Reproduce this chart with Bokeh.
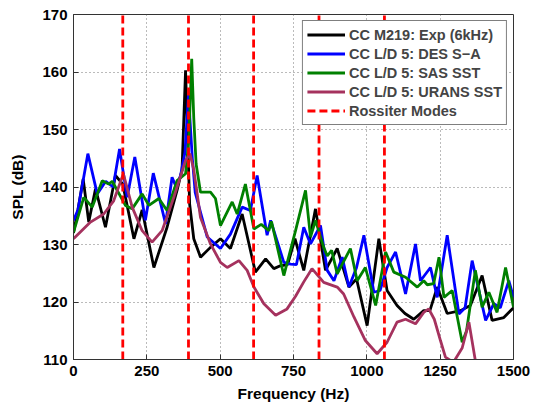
from bokeh.plotting import figure
from bokeh.embed import file_html
from bokeh.resources import INLINE
from bokeh.models import FixedTicker

# ---- data ----
exp_f = [0, 15, 33, 52, 75, 109, 143, 168, 206, 234, 274, 319, 353, 370, 382, 396, 410, 433, 467, 501, 535, 575, 620, 655, 683, 705, 730, 755, 785, 825, 859, 899, 939, 965, 1001, 1041, 1069, 1103, 1130, 1160, 1194, 1215, 1240, 1274, 1319, 1353, 1393, 1427, 1467, 1500]
exp_spl = [132, 136, 141.4, 133.9, 139.7, 133, 142, 140.5, 131, 136, 126, 133, 139.4, 143, 160.3, 137, 131, 127.8, 129.5, 131, 129.3, 135.3, 125.2, 127.5, 125.8, 126.3, 126.5, 131, 125.5, 136.2, 125.5, 129.3, 122.6, 124, 115.9, 131, 122, 119.4, 118, 117, 118.5, 118.5, 122.6, 118, 118.5, 119.4, 124.6, 116.8, 117.3, 119]

des_f = [0, 15, 49, 81, 110, 135, 157, 183, 209, 245, 272, 314, 336, 350, 365, 380, 392, 405, 415, 456, 501, 535, 575, 603, 626, 660, 672, 717, 740, 760, 785, 808, 842, 865, 888, 916, 939, 965, 990, 1024, 1045, 1069, 1098, 1132, 1166, 1183, 1217, 1240, 1274, 1314, 1335, 1359, 1405, 1433, 1455, 1484, 1500]
des_spl = [134.2, 136, 145.8, 138.8, 141, 140, 146.6, 138.2, 145.2, 134.2, 142.4, 133.6, 141.7, 140, 142, 146, 156, 145, 139, 131.3, 129.3, 131.8, 136.5, 135.9, 142, 131.6, 134.2, 126.9, 126.6, 126.5, 133, 130.1, 133.3, 125.5, 123.7, 127.8, 122.6, 126, 131.6, 121.7, 122, 126, 128.7, 121.4, 130.1, 123.7, 126, 120.8, 131.6, 117.9, 119, 127.2, 116.8, 119.7, 119, 123.7, 120.8]

sas_f = [0, 35, 64, 98, 120, 132, 177, 200, 234, 257, 291, 319, 353, 382, 393, 403, 410, 418, 433, 467, 484, 501, 541, 558, 586, 615, 640, 666, 675, 717, 757, 791, 808, 825, 853, 865, 880, 899, 944, 967, 995, 1030, 1064, 1092, 1132, 1172, 1194, 1206, 1228, 1246, 1263, 1291, 1325, 1340, 1370, 1393, 1416, 1444, 1473, 1500]
sas_spl = [132.1, 138.2, 136.5, 141.1, 140.5, 141, 136.8, 136.2, 138.8, 136.8, 138, 135.9, 141.1, 142.3, 148, 162.3, 152, 144, 139.1, 139.1, 138, 133.3, 137.4, 135.3, 140.5, 132.7, 133.5, 132.4, 134, 124.6, 132.4, 139.4, 131.3, 134.2, 129.5, 128, 129, 124.9, 129.3, 123.7, 126, 119.4, 128.7, 125.2, 124.3, 122.6, 123.7, 123, 123.2, 127.8, 120.8, 122, 113, 115, 125.5, 119.1, 121.7, 118.2, 126, 119.1]

urans_f = [0, 58, 103, 137, 170, 200, 234, 268, 302, 342, 382, 397, 410, 433, 467, 501, 524, 564, 592, 615, 649, 689, 728, 757, 785, 813, 853, 899, 921, 956, 995, 1035, 1069, 1103, 1132, 1166, 1194, 1211, 1230, 1251, 1268, 1295, 1325, 1348, 1370, 1390, 1410]
urans_spl = [131, 133.9, 135.3, 137.6, 142.3, 136.5, 132.4, 130.4, 132.4, 138.2, 144.6, 145.8, 143, 134.7, 130.1, 126.9, 126, 127.2, 125.5, 122.6, 119.7, 117.7, 118.8, 121, 123.5, 125.8, 123.4, 122.6, 121.4, 117.4, 113.3, 111, 113, 116.5, 117, 116.2, 118.2, 118.8, 117, 113.3, 110.4, 109.5, 112, 116.5, 109.8, 104, 100]

rossiter_f = [168, 392, 614, 837, 1060]

x_ticks = [0, 250, 500, 750, 1000, 1250, 1500]
y_ticks = [110, 120, 130, 140, 150, 160, 170]
x_lim = (0, 1500)
y_lim = (110, 170)

FONT = "Liberation Sans"

p = figure(width=547, height=407, x_range=x_lim, y_range=y_lim,
           output_backend="svg", toolbar_location=None,
           min_border_left=73, min_border_right=34, min_border_top=14, min_border_bottom=48)

p.line(exp_f, exp_spl, line_color="black", line_width=2.8, legend_label="CC M219: Exp (6kHz)")
p.line(des_f, des_spl, line_color="#0000FF", line_width=2.8, legend_label="CC L/D 5: DES S\u2212A")
p.line(sas_f, sas_spl, line_color="#008000", line_width=2.8, legend_label="CC L/D 5: SAS SST")
p.line(urans_f, urans_spl, line_color="#A5325E", line_width=2.8, legend_label="CC L/D 5: URANS SST")
p.segment(x0=rossiter_f, x1=rossiter_f, y0=[y_lim[0]] * len(rossiter_f), y1=[y_lim[1]] * len(rossiter_f),
          line_color="#FF0000", line_width=2.8, line_dash="8 4", legend_label="Rossiter Modes")

p.xaxis.ticker = FixedTicker(ticks=x_ticks)
p.yaxis.ticker = FixedTicker(ticks=y_ticks)
for ax in (p.xaxis, p.yaxis):
    ax.major_tick_in = 5
    ax.major_tick_out = 0
    ax.minor_tick_in = 0
    ax.minor_tick_out = 0
    ax.major_label_text_font = FONT
    ax.major_label_text_font_style = "bold"
    ax.major_label_text_font_size = "15px"
    ax.major_label_text_color = "black"
    ax.axis_label_text_font = FONT
    ax.axis_label_text_font_style = "bold"
    ax.axis_label_text_font_size = "15.5px"
    ax.axis_label_text_color = "black"
    ax.axis_line_color = "#333333"
    ax.major_tick_line_color = "#333333"
p.xaxis.axis_label = "Frequency (Hz)"
p.yaxis.axis_label = "SPL (dB)"
p.xaxis.major_label_standoff = 6
p.yaxis.major_label_standoff = 6
p.xaxis.axis_label_standoff = 6
p.yaxis.axis_label_standoff = 13

p.xgrid.grid_line_dash = "1 3"
p.ygrid.grid_line_dash = "1 3"
p.xgrid.grid_line_color = "#555555"
p.ygrid.grid_line_color = "#555555"
p.xgrid.grid_line_alpha = 0.8
p.ygrid.grid_line_alpha = 0.8

p.outline_line_color = "#333333"
p.outline_line_width = 1

lg = p.legend[0]
lg.location = "top_right"
lg.margin = 6
lg.padding = 4
lg.spacing = 0
lg.glyph_width = 38
lg.glyph_height = 19
lg.label_height = 19
lg.label_standoff = 4
lg.label_text_font = FONT
lg.label_text_font_style = "bold"
lg.label_text_font_size = "14.5px"
lg.border_line_color = "black"
lg.border_line_width = 1
lg.background_fill_alpha = 1.0

open("out.html", "w").write(file_html(p, INLINE))
